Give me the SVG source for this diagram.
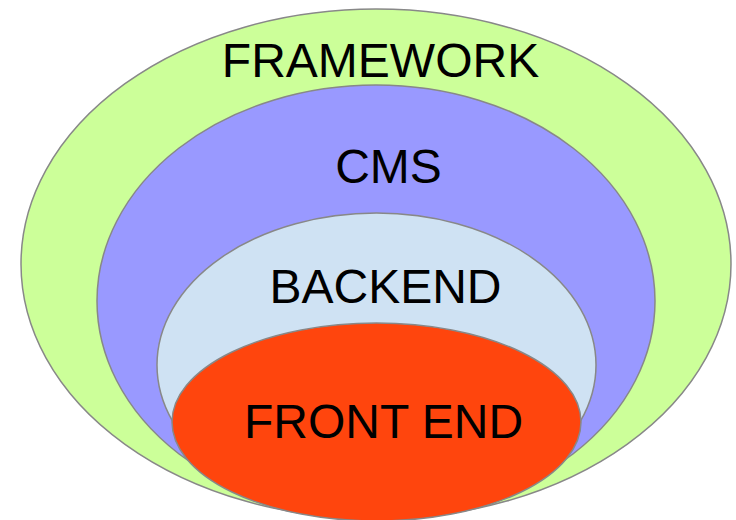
<svg xmlns="http://www.w3.org/2000/svg" width="736" height="520" viewBox="0 0 736 520">
<style>
.e{stroke:#888888;stroke-width:1.5}
.t{font-family:"Liberation Sans",Arial,sans-serif;font-size:48px;fill:#000;text-anchor:middle}
</style>
<rect width="736" height="520" fill="#ffffff"/>
<g id="framework"><ellipse class="e" cx="376" cy="264" rx="355" ry="255" fill="#CCFF99"/><text class="t" x="380.5" y="77">FRAMEWORK</text></g>
<g id="cms"><ellipse class="e" cx="376" cy="301" rx="279" ry="216" fill="#9999FF"/><text class="t" x="388.5" y="183">CMS</text></g>
<g id="backend"><ellipse class="e" cx="376.5" cy="365" rx="219.5" ry="152" fill="#CFE2F3"/><text class="t" x="385.5" y="303">BACKEND</text></g>
<g id="frontend"><ellipse class="e" cx="376.5" cy="422" rx="204.5" ry="99" fill="#FF450D"/><text class="t" x="383.5" y="438">FRONT END</text></g>
<g id="connectors"/>
</svg>
